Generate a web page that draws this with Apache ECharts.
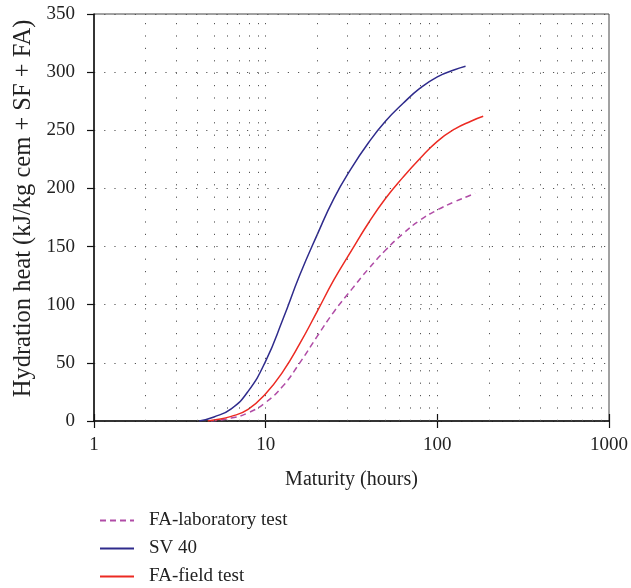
<!DOCTYPE html>
<html>
<head>
<meta charset="utf-8">
<script src="https://cdn.jsdelivr.net/npm/echarts@6/dist/echarts.min.js"></script>
<style>html,body{margin:0;padding:0;background:#fff;}#c{width:631px;height:588px;}</style>
</head>
<body>
<div id="c"></div>
<script>
// Data
var xTickLabels = [1, 10, 100, 1000];
var yTicks = [0, 50, 100, 150, 200, 250, 300, 350];
var gridXValues = [2,3,4,5,6,7,8,9,10,20,30,40,50,60,70,80,90,100,200,300,400,500,600,700,800,900];

var faLab = [[4.8,0],[6.3,2.5],[7.9,7],[10,16],[12.6,30],[15.8,50],[20,73],[25,94],[31.6,113],[39.8,131],[50,147],[63,161],[79,172.5],[100,181.5],[126,188.5],[158,194.5],[166,196]];
var sv40 = [[4.1,0],[5,3.5],[6.3,10.5],[7.9,25.5],[10,51.5],[12.6,87.5],[15.8,125.5],[20,160.5],[25,191.5],[31.6,217.5],[39.8,239.5],[50,258],[63,273],[79,286],[100,296],[126,302],[146,305]];
var faField = [[4.6,0],[5,0.8],[6.3,4],[7.9,10],[10,23.5],[12.6,42.5],[15.8,66.5],[20,94.5],[25,121.5],[31.6,146.5],[39.8,170.5],[50,191.5],[63,209.5],[79,225.5],[100,240.5],[126,251],[158,258],[185,262]];

var FONT = 'Liberation Serif';
var chart = echarts.init(document.getElementById('c'));
chart.setOption({
  animation: false,
  backgroundColor: '#fff',
  grid: {left: 94, right: 20, top: 14, bottom: 167, show: true, borderColor: '#444', borderWidth: 1, backgroundColor: 'transparent'},
  legend: {
    orient: 'vertical', left: 94, top: 506, itemWidth: 34, itemHeight: 14, itemGap: 9, height: 90,
    itemStyle: {color: 'transparent', borderColor: 'transparent', borderWidth: 0, opacity: 0},
    textStyle: {fontFamily: FONT, fontSize: 19, color: '#222', padding: [0,0,0,10]},
    data: ['FA-laboratory test', 'SV 40', 'FA-field test']
  },
  xAxis: [{
    type: 'log', logBase: 10, min: 1, max: 1000,
    name: 'Maturity (hours)', nameLocation: 'middle', nameGap: 49,
    nameTextStyle: {fontFamily: FONT, fontSize: 20, color: '#222'},
    axisLine: {show: true, lineStyle: {color: '#111', width: 1.5}},
    axisTick: {show: true, length: 7, lineStyle: {color: '#111', width: 1.2}},
    axisLabel: {fontFamily: FONT, fontSize: 19, color: '#222', margin: 15,
      formatter: function (v) { return xTickLabels.indexOf(Math.round(v)) >= 0 ? String(Math.round(v)) : ''; }},
    splitLine: {show: false}, minorTick: {show: false}
  }, {
    type: 'log', logBase: 10, min: 1, max: 1000, position: 'bottom', offset: 0,
    axisLine: {show: false},
    axisTick: {show: true, inside: true, length: 7, lineStyle: {color: '#111', width: 1.2}},
    axisLabel: {show: false}, splitLine: {show: false}
  }],
  yAxis: {
    type: 'value', min: 0, max: 350, interval: 50,
    name: 'Hydration heat (kJ/kg cem + SF + FA)', nameLocation: 'middle', nameGap: 57,
    nameTextStyle: {fontFamily: FONT, fontSize: 24.5, color: '#222', padding: [0,0,0,18]},
    axisLine: {show: true, lineStyle: {color: '#111', width: 1.5}},
    axisTick: {show: true, length: 7, lineStyle: {color: '#111', width: 1.2}},
    axisLabel: {fontFamily: FONT, fontSize: 19, color: '#222', margin: 19},
    splitLine: {show: true, lineStyle: {color: '#555', width: 1, type: [1.2, 9]}}
  },
  series: [{
    name: 'FA-laboratory test', type: 'line', data: faLab, smooth: 0.5, symbol: 'none',
    lineStyle: {color: '#b04ca6', width: 1.5, type: [6, 4]}, itemStyle: {color: '#b04ca6'},
    markLine: {
      silent: true, symbol: 'none', label: {show: false},
      lineStyle: {color: '#555', width: 1, type: [1.2, 11.2]},
      data: gridXValues.map(function (v) { return {xAxis: v}; })
    }
  }, {
    name: 'SV 40', type: 'line', data: sv40, smooth: 0.5, symbol: 'none',
    lineStyle: {color: '#2f2b8c', width: 1.5}, itemStyle: {color: '#2f2b8c'}
  }, {
    name: 'FA-field test', type: 'line', data: faField, smooth: 0.5, symbol: 'none',
    lineStyle: {color: '#ec2a22', width: 1.5}, itemStyle: {color: '#ec2a22'}
  }]
});
</script>
</body>
</html>
